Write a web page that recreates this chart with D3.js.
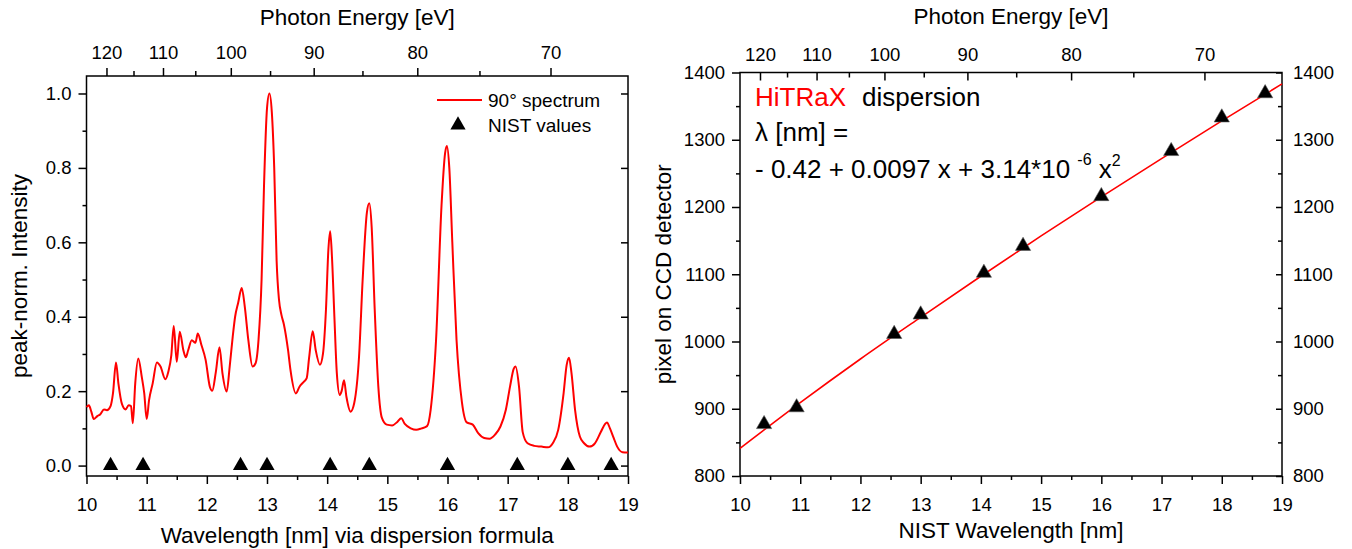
<!DOCTYPE html>
<html lang="en">
<head>
<meta charset="utf-8">
<script src="https://cdn.jsdelivr.net/npm/d3@7/dist/d3.min.js"></script>
<style>
  body { margin: 0; background: #fff; }
  svg { display: block; font-family: "Liberation Sans", Arial, sans-serif; }
  .axis path, .axis line { stroke: #000; stroke-width: 1.5; }
  .axis text { font-size: 18.5px; fill: #000; }
</style>
</head>
<body>
<script>
  // spectrum (left panel)
  const specWave = [10.00, 10.04, 10.08, 10.12, 10.18, 10.23, 10.29, 10.34, 10.40, 10.44,
    10.49, 10.53, 10.59, 10.65, 10.70, 10.74, 10.77, 10.81, 10.86, 10.92,
    10.96, 11.00, 11.04, 11.10, 11.17, 11.23, 11.31, 11.36, 11.41, 11.45,
    11.50, 11.55, 11.61, 11.65, 11.69, 11.75, 11.81, 11.85, 11.91, 11.98,
    12.05, 12.09, 12.15, 12.21, 12.26, 12.33, 12.38, 12.43, 12.47, 12.52,
    12.58, 12.63, 12.69, 12.76, 12.81, 12.86, 12.91, 12.95, 13.00, 13.04,
    13.08, 13.12, 13.16, 13.20, 13.24, 13.28, 13.35, 13.39, 13.48, 13.54,
    13.61, 13.66, 13.70, 13.76, 13.81, 13.88, 13.93, 13.98, 14.02, 14.05,
    14.08, 14.12, 14.16, 14.21, 14.24, 14.28, 14.32, 14.39, 14.45, 14.53,
    14.59, 14.66, 14.70, 14.74, 14.79, 14.85, 14.91, 14.99, 15.08, 15.17,
    15.23, 15.29, 15.39, 15.48, 15.57, 15.66, 15.72, 15.81, 15.90, 15.96,
    15.99, 16.03, 16.08, 16.15, 16.24, 16.32, 16.42, 16.51, 16.61, 16.70,
    16.79, 16.88, 16.97, 17.04, 17.10, 17.13, 17.19, 17.25, 17.33, 17.44,
    17.56, 17.67, 17.75, 17.84, 17.93, 17.98, 18.02, 18.06, 18.12, 18.20,
    18.27, 18.36, 18.45, 18.55, 18.62, 18.65, 18.70, 18.76, 18.82, 18.91, 19.00];
  const specIntensity = [0.157, 0.162, 0.145, 0.125, 0.133, 0.138, 0.151, 0.149, 0.160, 0.194,
    0.277, 0.221, 0.165, 0.151, 0.162, 0.160, 0.114, 0.221, 0.288, 0.237,
    0.194, 0.125, 0.176, 0.221, 0.277, 0.266, 0.232, 0.252, 0.297, 0.375,
    0.279, 0.360, 0.310, 0.291, 0.310, 0.337, 0.330, 0.355, 0.324, 0.284,
    0.212, 0.201, 0.252, 0.318, 0.248, 0.199, 0.266, 0.346, 0.400, 0.437,
    0.477, 0.428, 0.337, 0.266, 0.275, 0.340, 0.500, 0.750, 0.960, 1.000,
    0.950, 0.800, 0.550, 0.445, 0.405, 0.380, 0.310, 0.257, 0.194, 0.212,
    0.225, 0.235, 0.290, 0.361, 0.310, 0.271, 0.300, 0.419, 0.580, 0.630,
    0.560, 0.400, 0.250, 0.190, 0.200, 0.229, 0.185, 0.145, 0.168, 0.293,
    0.500, 0.680, 0.705, 0.640, 0.420, 0.213, 0.128, 0.110, 0.108, 0.118,
    0.127, 0.112, 0.100, 0.096, 0.100, 0.106, 0.150, 0.338, 0.697, 0.840,
    0.859, 0.800, 0.600, 0.338, 0.170, 0.116, 0.110, 0.087, 0.074, 0.072,
    0.083, 0.105, 0.150, 0.213, 0.260, 0.266, 0.210, 0.090, 0.060, 0.053,
    0.051, 0.049, 0.060, 0.096, 0.195, 0.270, 0.290, 0.250, 0.150, 0.078,
    0.060, 0.051, 0.060, 0.091, 0.112, 0.116, 0.100, 0.075, 0.051, 0.036, 0.035];

  // NIST lines and the detector pixel they were found at
  const nistWave = [10.40, 10.94, 12.56, 13.00, 14.05, 14.70, 16.00, 17.16, 18.00, 18.72];
  const nistPixel = [877, 902, 1011, 1040, 1102, 1142, 1216, 1283, 1333, 1369];

  // fitted dispersion curve, read at whole nm
  const fitWave = [10, 11, 12, 13, 14, 15, 16, 17, 18, 19];
  const fitPixel = [841, 909, 974, 1036, 1097, 1157, 1215, 1272, 1328, 1383];

  // tick values
  const waveMajor = [10, 11, 12, 13, 14, 15, 16, 17, 18, 19];
  const waveMinor = [10.5, 11.5, 12.5, 13.5, 14.5, 15.5, 16.5, 17.5, 18.5];
  const energyMajor = [120, 110, 100, 90, 80, 70];
  const energyMinor = [115, 105, 95, 85, 75];
  const intMajor = [0.0, 0.2, 0.4, 0.6, 0.8, 1.0];
  const intMinor = [0.1, 0.3, 0.5, 0.7, 0.9];
  const pixMajor = [800, 900, 1000, 1100, 1200, 1300, 1400];
  const pixMinor = [850, 950, 1050, 1150, 1250, 1350];

  const hc = 1239.84; // eV nm
  const W = 1352, H = 549;
  const red = '#ff0000';

  const svg = d3.select('body').append('svg')
    .attr('width', W)
    .attr('height', H);

  const spectrum = specWave.map((w, i) => ({w: w, v: specIntensity[i]}));
  const nist = nistWave.map((w, i) => ({w: w, p: nistPixel[i]}));
  const fit = fitWave.map((w, i) => ({w: w, p: fitPixel[i]}));

  // frame, bottom wavelength axis and top energy axis of one panel
  // topIn: top ticks point into the plot (right panel) or out of it (left panel)
  function frame(g, x, top, bottom, topIn) {
    const [x0, x1] = x.range();
    g.append('g').attr('class', 'axis')
      .attr('transform', `translate(0,${bottom})`)
      .call(d3.axisBottom(x).tickValues(waveMajor).tickSize(8).tickPadding(14).tickFormat(d3.format('d')));
    g.append('g').attr('class', 'axis')
      .attr('transform', `translate(0,${bottom})`)
      .call(d3.axisBottom(x).tickValues(waveMinor).tickSize(4).tickFormat(''));
    const s = topIn ? -1 : 1;
    g.append('g').attr('class', 'axis')
      .attr('transform', `translate(0,${top})`)
      .call(d3.axisTop(x).tickValues(energyMajor.map(e => hc / e))
        .tickSizeInner(s * 8).tickSizeOuter(0).tickPadding(topIn ? 12 : 9)
        .tickFormat(w => Math.round(hc / w)));
    g.append('g').attr('class', 'axis')
      .attr('transform', `translate(0,${top})`)
      .call(d3.axisTop(x).tickValues(energyMinor.map(e => hc / e))
        .tickSizeInner(s * 5).tickSizeOuter(0).tickFormat(''));
    g.selectAll('.axis .domain').remove();
    g.append('rect')
      .attr('x', x0).attr('y', top)
      .attr('width', x1 - x0).attr('height', bottom - top)
      .attr('fill', 'none').attr('stroke', '#000').attr('stroke-width', 1.5);
  }

  function label(g, txt, x, y, size, rotate) {
    const t = g.append('text')
      .attr('text-anchor', 'middle')
      .attr('font-size', size)
      .text(txt);
    if (rotate) t.attr('transform', `translate(${x},${y}) rotate(-90)`);
    else t.attr('x', x).attr('y', y);
    return t;
  }

  const tri = d3.symbol().type(d3.symbolTriangle).size(100);

  // ---------- left panel: spectrum ----------
  const L = {left: 86.5, right: 628, top: 76, bottom: 476};
  const xL = d3.scaleLinear().domain([10, 19]).range([L.left, L.right]);
  const yL = d3.scaleLinear().domain([-0.028, 1.047]).range([L.bottom, L.top]);
  const gL = svg.append('g');

  gL.append('g').attr('class', 'axis')
    .attr('transform', `translate(${L.left},0)`)
    .call(d3.axisLeft(yL).tickValues(intMajor).tickSize(8).tickPadding(7).tickFormat(d3.format('.1f')));
  gL.append('g').attr('class', 'axis')
    .attr('transform', `translate(${L.left},0)`)
    .call(d3.axisLeft(yL).tickValues(intMinor).tickSize(4).tickFormat(''));
  gL.append('g').attr('class', 'axis')
    .attr('transform', `translate(${L.right},0)`)
    .call(d3.axisLeft(yL).tickValues(intMajor).tickSize(7).tickFormat(''));
  frame(gL, xL, L.top, L.bottom, false);

  gL.append('path')
    .datum(spectrum)
    .attr('fill', 'none')
    .attr('stroke', red)
    .attr('stroke-width', 2)
    .attr('d', d3.line().x(d => xL(d.w)).y(d => yL(d.v)).curve(d3.curveMonotoneX));

  gL.selectAll('.nist')
    .data(nist)
    .enter()
    .append('path')
    .attr('transform', d => `translate(${xL(d.w)},${yL(0)})`)
    .attr('d', tri)
    .attr('fill', '#000');

  // legend
  gL.append('line')
    .attr('x1', 437).attr('x2', 482).attr('y1', 100).attr('y2', 100)
    .attr('stroke', red).attr('stroke-width', 2);
  gL.append('text').attr('x', 488).attr('y', 107).attr('font-size', 19).text('90° spectrum');
  gL.append('path').attr('transform', 'translate(458,125)').attr('d', tri).attr('fill', '#000');
  gL.append('text').attr('x', 488).attr('y', 132).attr('font-size', 19).text('NIST values');

  label(gL, 'Photon Energy [eV]', (L.left + L.right) / 2, 25, 22.5);
  label(gL, 'Wavelength [nm] via dispersion formula', (L.left + L.right) / 2, 543, 22.5);
  label(gL, 'peak-norm. Intensity', 27, (L.top + L.bottom) / 2, 22.5, true);

  // ---------- right panel: dispersion ----------
  const R = {left: 740, right: 1282, top: 72.5, bottom: 476};
  const xR = d3.scaleLinear().domain([10, 19]).range([R.left, R.right]);
  const yR = d3.scaleLinear().domain([800, 1400]).range([R.bottom, R.top]);
  const gR = svg.append('g');

  gR.append('g').attr('class', 'axis')
    .attr('transform', `translate(${R.left},0)`)
    .call(d3.axisLeft(yR).tickValues(pixMajor).tickSize(8).tickPadding(7).tickFormat(d3.format('d')));
  gR.append('g').attr('class', 'axis')
    .attr('transform', `translate(${R.left},0)`)
    .call(d3.axisLeft(yR).tickValues(pixMinor).tickSize(4).tickFormat(''));
  gR.append('g').attr('class', 'axis')
    .attr('transform', `translate(${R.right},0)`)
    .call(d3.axisRight(yR).tickValues(pixMajor).tickSizeInner(-6).tickSizeOuter(0).tickPadding(11).tickFormat(d3.format('d')));
  gR.append('g').attr('class', 'axis')
    .attr('transform', `translate(${R.right},0)`)
    .call(d3.axisRight(yR).tickValues(pixMinor).tickSizeInner(-4).tickSizeOuter(0).tickFormat(''));
  frame(gR, xR, R.top, R.bottom, true);

  gR.append('path')
    .datum(fit)
    .attr('fill', 'none')
    .attr('stroke', red)
    .attr('stroke-width', 1.6)
    .attr('d', d3.line().x(d => xR(d.w)).y(d => yR(d.p)).curve(d3.curveMonotoneX));

  gR.selectAll('.nist')
    .data(nist)
    .enter()
    .append('path')
    .attr('transform', d => `translate(${xR(d.w)},${yR(d.p)})`)
    .attr('d', tri)
    .attr('fill', '#000')
    .attr('stroke', '#555')
    .attr('stroke-width', 0.6);

  // formula annotation
  const a1 = gR.append('text').attr('x', 755).attr('y', 106).attr('font-size', 26);
  a1.append('tspan').attr('fill', red).text('HiTRaX');
  a1.append('tspan').attr('dx', 16).text('dispersion');
  gR.append('text').attr('x', 755).attr('y', 141).attr('font-size', 26).text('\u03bb [nm] =');
  const a3 = gR.append('text').attr('x', 755).attr('y', 178).attr('font-size', 26);
  a3.append('tspan').text('- 0.42 + 0.0097 x + 3.14*10 ');
  a3.append('tspan').attr('font-size', 16).attr('dy', -13).text('-6');
  a3.append('tspan').attr('dy', 13).text(' x');
  a3.append('tspan').attr('font-size', 16).attr('dy', -12).text('2');

  label(gR, 'Photon Energy [eV]', (R.left + R.right) / 2, 24, 22.5);
  label(gR, 'NIST Wavelength [nm]', (R.left + R.right) / 2, 538, 22.5);
  label(gR, 'pixel on CCD detector', 671, (R.top + R.bottom) / 2, 22.5, true);
</script>
</body>
</html>
